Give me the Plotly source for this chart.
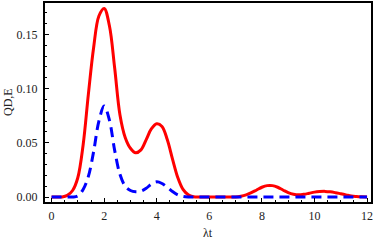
import plotly.graph_objects as go

t_vals = [0.0, 0.2, 0.4, 0.6, 0.8, 1.0, 1.2, 1.4, 1.6, 1.8, 2.0, 2.2, 2.4, 2.6, 2.8, 3.0,
          3.2, 3.4, 3.6, 3.8, 4.0, 4.2, 4.4, 4.6, 4.8, 5.0, 5.2, 5.4, 5.6, 5.8, 6.0,
          6.2, 6.4, 6.6, 6.8, 7.0, 7.2, 7.4, 7.6, 7.8, 8.0, 8.2, 8.4, 8.6, 8.8, 9.0,
          9.2, 9.4, 9.6, 9.8, 10.0, 10.2, 10.4, 10.6, 10.8, 11.0, 11.2, 11.4, 11.6, 11.8, 12.0]

qd_vals = [0.0, 0.0, 0.0, 0.0015, 0.006, 0.018, 0.048, 0.095, 0.138, 0.167, 0.174, 0.158, 0.119,
           0.076, 0.055, 0.045, 0.0408, 0.0435, 0.053, 0.063, 0.0675, 0.065, 0.053, 0.035, 0.018,
           0.007, 0.002, 0.0003, 0.0, 0.0, 0.0, 0.0, 0.0, 0.0, 0.0, 0.0, 0.0007, 0.002, 0.004,
           0.0065, 0.009, 0.0105, 0.0105, 0.009, 0.0065, 0.004, 0.0025, 0.002, 0.0025, 0.0035,
           0.0045, 0.005, 0.0052, 0.0048, 0.004, 0.003, 0.002, 0.001, 0.0005, 0.0002, 0.0]

e_vals = [0.0, 0.0, 0.0, 0.0, 0.0, 0.001, 0.007, 0.019, 0.042, 0.070, 0.084, 0.071, 0.043,
          0.021, 0.010, 0.006, 0.0049, 0.0055, 0.008, 0.012, 0.014, 0.0125, 0.009, 0.005, 0.002,
          0.0005, 0.0, 0.0, 0.0, 0.0, 0.0, 0.0, 0.0, 0.0, 0.0, 0.0, 0.0, 0.0, 0.0, 0.0,
          0.0, 0.0, 0.0, 0.0, 0.0, 0.0, 0.0, 0.0, 0.0, 0.0, 0.0, 0.0, 0.0, 0.0, 0.0, 0.0,
          0.0, 0.0, 0.0, 0.0, 0.0]

x_ticks = [0, 2, 4, 6, 8, 10, 12]
y_ticks = [0.0, 0.05, 0.10, 0.15]
y_tick_labels = ["0.00", "0.05", "0.10", "0.15"]
x_title = "λt"
y_title = "QD,E"

fig = go.Figure()
fig.add_trace(go.Scatter(x=t_vals, y=qd_vals, mode="lines", line_shape="spline",
                         line=dict(color="#ff0000", width=3), name="QD"))
fig.add_trace(go.Scatter(x=t_vals, y=e_vals, mode="lines", line_shape="spline",
                         line=dict(color="#0000ff", width=3, dash="10px,6px"), name="E"))

font = dict(family="Liberation Serif, Times New Roman, serif", size=12, color="#222222")
fig.update_layout(
    width=374, height=241,
    margin=dict(l=45, r=2, t=1, b=39),
    paper_bgcolor="white", plot_bgcolor="white",
    showlegend=False,
    font=font,
)
fig.update_xaxes(
    range=[-0.25, 12.15], tickvals=x_ticks, ticktext=[str(v) for v in x_ticks],
    showgrid=False, zeroline=False, showline=True, linecolor="black", linewidth=2,
    mirror=True, ticks="inside", ticklen=4, tickwidth=1, tickcolor="black",
    ticklabeloverflow="allow", ticklabelstandoff=2, tickfont=font,
    minor=dict(ticks="inside", dtick=0.5, ticklen=2, tickcolor="black", showgrid=False),
)
fig.update_yaxes(
    range=[-0.0046, 0.179], tickvals=y_ticks, ticktext=y_tick_labels,
    showgrid=False, zeroline=False, showline=True, linecolor="black", linewidth=2,
    mirror=True, ticks="inside", ticklen=4, tickwidth=1, tickcolor="black",
    ticklabelstandoff=3, tickfont=font,
    minor=dict(ticks="inside", dtick=0.01, ticklen=2, tickcolor="black", showgrid=False),
)
fig.add_annotation(text=x_title, xref="paper", yref="paper", x=0.5, y=-0.155,
                   yanchor="middle", showarrow=False, font=font)
fig.add_annotation(text=y_title, xref="paper", yref="paper", x=-0.115, y=0.5,
                   xanchor="center", yanchor="middle", textangle=-90, showarrow=False, font=font)

fig.write_html("out.html", config={"displayModeBar": False},
               post_script="document.body.style.margin='0';document.body.style.overflow='hidden';")
